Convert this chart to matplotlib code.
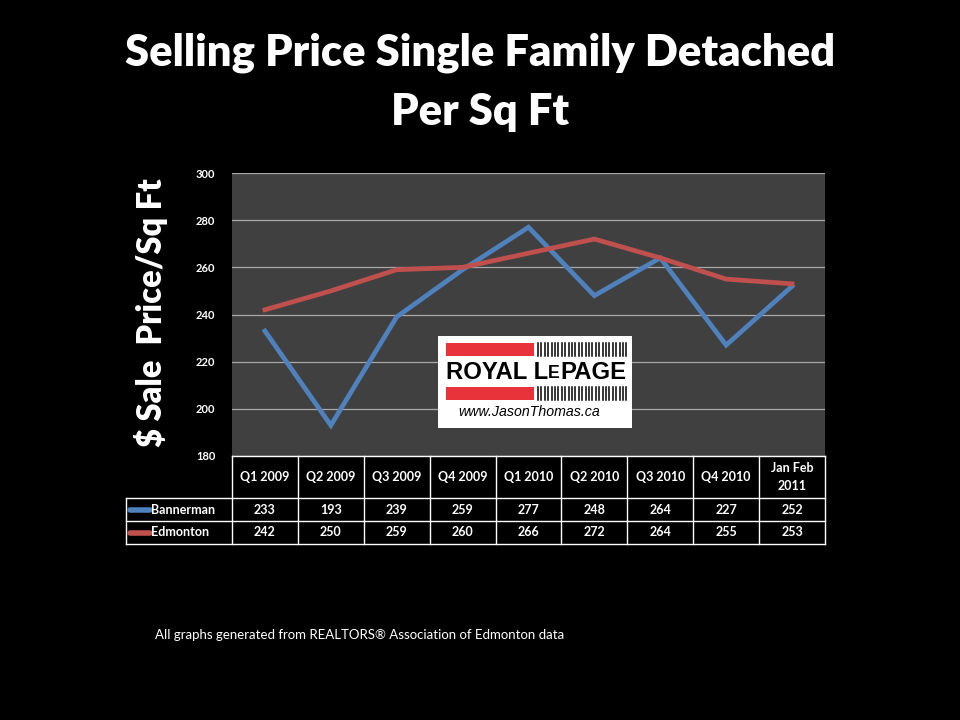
import numpy as np
import matplotlib
matplotlib.use('Agg')
import matplotlib.pyplot as plt
import matplotlib.transforms as mtransforms
from matplotlib.patches import Rectangle
from matplotlib.lines import Line2D

# data
periods = ['Q1 2009', 'Q2 2009', 'Q3 2009', 'Q4 2009', 'Q1 2010',
           'Q2 2010', 'Q3 2010', 'Q4 2010', 'Jan Feb\n2011']
bannerman = [233, 193, 239, 259, 277, 248, 264, 227, 252]
edmonton = [242, 250, 259, 260, 266, 272, 264, 255, 253]
series_names = ['Bannerman', 'Edmonton']
series_colors = ['#4f81bd', '#c0504d']
y_ticks = [180, 200, 220, 240, 260, 280, 300]

narrow = ['Liberation Sans Narrow', 'Lato', 'DejaVu Sans']
W, H = 960, 720

fig = plt.figure(figsize=(9.6, 7.2), dpi=100, facecolor='black')

# plot area
ax = fig.add_axes([232 / W, 1 - 456 / H, (825 - 232) / W, (456 - 173) / H])
ax.set_facecolor('#404040')
x = np.arange(len(periods))
for vals, col in zip([bannerman, edmonton], series_colors):
    ax.plot(x, vals, color=col, lw=3.4, solid_joinstyle='miter', zorder=3)
ax.set_xlim(-0.5, len(periods) - 0.5)
ax.set_ylim(180, 300)
ax.set_yticks(y_ticks)
ax.set_yticklabels([str(t) for t in y_ticks], color='white', fontsize=8,
                   fontweight='bold', family=narrow)
ax.tick_params(axis='y', length=0, pad=12)
ax.set_xticks([])
ax.grid(axis='y', color='#a8a8a8', lw=0.9)
ax.set_axisbelow(True)
for s in ['top', 'right', 'left']:
    ax.spines[s].set_visible(False)
ax.spines['bottom'].set_color('white')
ax.spines['bottom'].set_linewidth(1)

# data table under the axes
tr = mtransforms.blended_transform_factory(ax.transData, ax.transAxes)
axh = 456 - 173
axw = 825 - 232
y_hdr = -(498 - 456) / axh
y_r1 = -(521 - 456) / axh
y_r2 = -(544 - 456) / axh
x_lab = (126 - 232) / axw
lkw = dict(color='white', lw=1, transform=ax.transAxes, clip_on=False)
ax.add_line(Line2D([x_lab, 1], [y_hdr, y_hdr], **lkw))
ax.add_line(Line2D([x_lab, 1], [y_r1, y_r1], **lkw))
ax.add_line(Line2D([x_lab, 1], [y_r2, y_r2], **lkw))
ax.add_line(Line2D([x_lab, x_lab], [y_hdr, y_r2], **lkw))
for k in range(len(periods) + 1):
    xf = k / len(periods)
    ax.add_line(Line2D([xf, xf], [0, y_r2], **lkw))

tkw = dict(color='white', fontsize=9, fontweight='bold', family=narrow,
           ha='center', va='center', transform=tr, clip_on=False)
for i, p in enumerate(periods):
    ax.text(i, y_hdr / 2, p, linespacing=1.5, **tkw)
    ax.text(i, (y_hdr + y_r1) / 2, str(bannerman[i]), **tkw)
    ax.text(i, (y_r1 + y_r2) / 2, str(edmonton[i]), **tkw)

for name, col, yc in zip(series_names, series_colors,
                         [(y_hdr + y_r1) / 2, (y_r1 + y_r2) / 2]):
    ax.add_line(Line2D([(130 - 232) / axw, (150 - 232) / axw], [yc, yc],
                       color=col, lw=4, solid_capstyle='round',
                       transform=ax.transAxes, clip_on=False))
    ax.text((151 - 232) / axw, yc, name, color='white', fontsize=9,
            fontweight='bold', family=narrow, ha='left', va='center',
            transform=ax.transAxes, clip_on=False)

# titles
fig.text(0.5, 1 - 53 / H, 'Selling Price Single Family Detached', color='white',
         fontsize=31.3, fontweight='heavy', family='Lato', ha='center', va='center')
fig.text(0.5, 1 - 112 / H, 'Per Sq Ft', color='white',
         fontsize=31.3, fontweight='heavy', family='Lato', ha='center', va='center')
fig.text(151 / W, 1 - 313 / H, '$ Sale  Price/Sq Ft', color='white', fontsize=23.5,
         fontweight='heavy', family='Lato', rotation=90, ha='center', va='center')
fig.text(155 / W, 1 - 635 / H,
         'All graphs generated from REALTORS\u00ae Association of Edmonton data',
         color='white', fontsize=9.5, family='Lato', ha='left', va='center')

# Royal LePage logo box
def fbox(x0, y0, x1, y1, **kw):
    fig.add_artist(Rectangle((x0 / W, 1 - y1 / H), (x1 - x0) / W, (y1 - y0) / H,
                             transform=fig.transFigure, **kw))

fbox(438, 336, 632, 428, facecolor='white', edgecolor='none', zorder=5)
fbox(446, 343, 534, 356, facecolor='#e8333b', edgecolor='none', zorder=6)
fbox(446, 387, 534, 400, facecolor='#e8333b', edgecolor='none', zorder=6)
for yy0, yy1 in [(343, 356), (387, 400)]:
    for xx in np.arange(538, 627, 3.4):
        fig.add_artist(Line2D([xx / W, xx / W], [1 - yy0 / H, 1 - yy1 / H],
                              color='black', lw=1.1, transform=fig.transFigure,
                              zorder=6))
fig.text(548 / W, 1 - 372 / H, 'ROYAL L', color='black', fontsize=17.2,
         fontweight='bold', family='Liberation Sans', ha='right', va='center',
         zorder=7)
fig.text(548 / W, 1 - 373.5 / H, 'E', color='black', fontsize=12.8,
         fontweight='bold', family='Liberation Sans', ha='left', va='center',
         zorder=7)
fig.text(560 / W, 1 - 372 / H, 'PAGE', color='black', fontsize=17.2,
         fontweight='bold', family='Liberation Sans', ha='left', va='center',
         zorder=7)
fig.text(529 / W, 1 - 412 / H, 'www.JasonThomas.ca', color='black', fontsize=10.2,
         style='italic', family='Liberation Sans', ha='center', va='center',
         zorder=7)

fig.savefig('out.png', dpi=100, facecolor='black')
